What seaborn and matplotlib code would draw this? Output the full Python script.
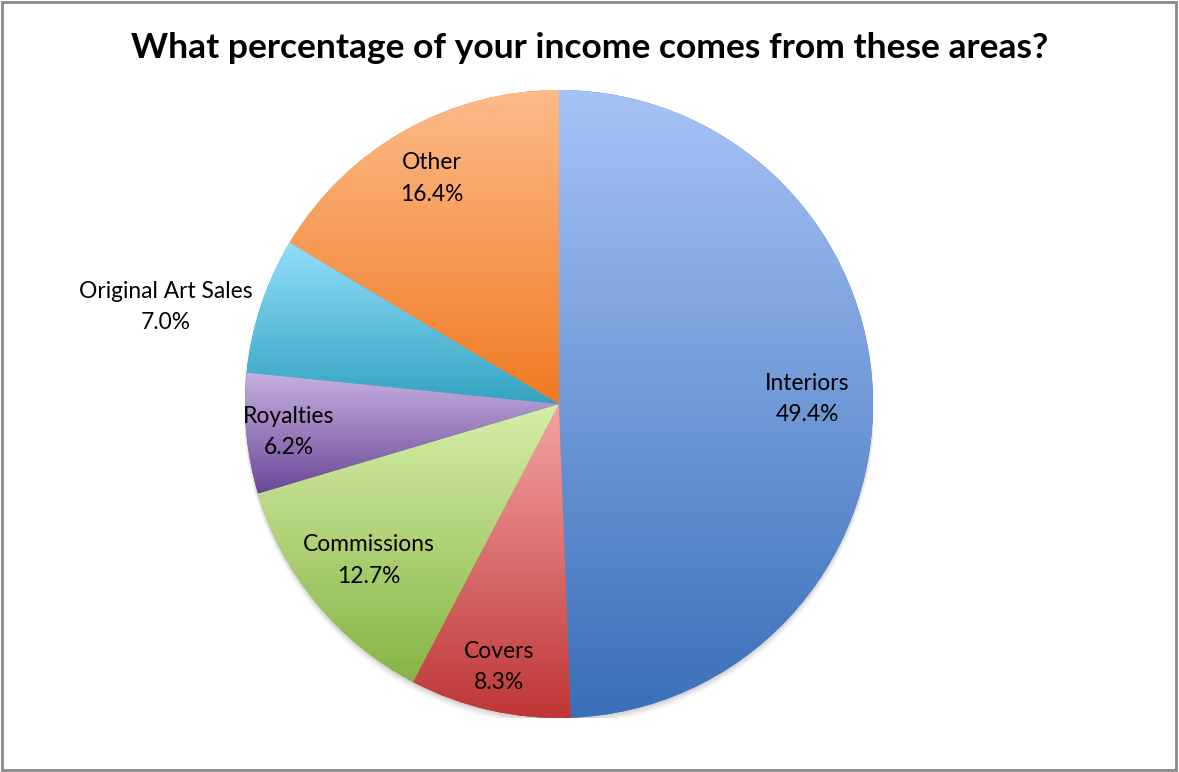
import numpy as np
import matplotlib
matplotlib.use('Agg')
import matplotlib.pyplot as plt
import seaborn as sns
from matplotlib.colors import LinearSegmentedColormap
from matplotlib.patches import Rectangle, Circle

categories = ['Interiors', 'Covers', 'Commissions', 'Royalties', 'Original Art Sales', 'Other']
shares = [49.4, 8.3, 12.7, 6.2, 7.0, 16.4]

# top / bottom colours of each slice gradient
top_colors = ['#a6c3f6', '#f4a4a4', '#d6eea8', '#c7b2e2', '#92def9', '#fdbb8a']
bottom_colors = ['#3a6fb9', '#bf3636', '#86b444', '#6a4896', '#33a3c2', '#f07a22']
label_dist = [0.79, 0.86, 0.785, 0.865, 1.29, 0.825]
label_turn = [0, 0, 0, 0.5, 4.5, 0]  # degrees, nudges off the mid angle

sns.set_theme(style='white')
plt.rcParams['font.family'] = ['Lato', 'DejaVu Sans']

W, H = 1179, 772
fig = plt.figure(figsize=(W / 100, H / 100), dpi=100)
fig.patch.set_facecolor('white')

cx, cy, r = 559, 404, 314
ax = fig.add_axes([(cx - r) / W, (H - cy - r) / H, 2 * r / W, 2 * r / H])

# soft shadow under the pie
for i, a in enumerate([0.05, 0.05, 0.04, 0.03]):
    ax.add_patch(Circle((0, -0.006 - i * 0.004), 1.0 + i * 0.002, color='black',
                        alpha=a, lw=0, zorder=0))

wedges, _ = ax.pie(shares, startangle=90, counterclock=False, radius=1.0,
                   colors=bottom_colors, wedgeprops=dict(linewidth=0))
ax.axis('off')

grad = np.linspace(0, 1, 256).reshape(-1, 1)
for w, c0, c1 in zip(wedges, top_colors, bottom_colors):
    bb = w.get_path().get_extents()
    cmap = LinearSegmentedColormap.from_list('g', [c1, c0])
    im = ax.imshow(grad, cmap=cmap, aspect='auto', origin='lower',
                   extent=[bb.x0, bb.x1, bb.y0, bb.y1], zorder=2, interpolation='bilinear')
    im.set_clip_path(w)
ax.set_xlim(-1, 1)
ax.set_ylim(-1, 1)

for w, name, val, d, t in zip(wedges, categories, shares, label_dist, label_turn):
    ang = np.deg2rad((w.theta1 + w.theta2) / 2 + t)
    ax.text(d * np.cos(ang), d * np.sin(ang), f'{name}\n{val:.1f}%', ha='center', va='center',
            fontsize=16.4, color='black', linespacing=1.6, zorder=5, clip_on=False)

fig.text(0.5, 1 - 48 / H, 'What percentage of your income comes from these areas?',
         ha='center', va='center', fontsize=25.5, fontweight='bold', color='black')

fig.add_artist(Rectangle((0.0015, 0.002), 0.996, 0.995, transform=fig.transFigure,
                         fill=False, edgecolor='#8a8a8a', linewidth=2))

fig.savefig('out.png', dpi=100)
